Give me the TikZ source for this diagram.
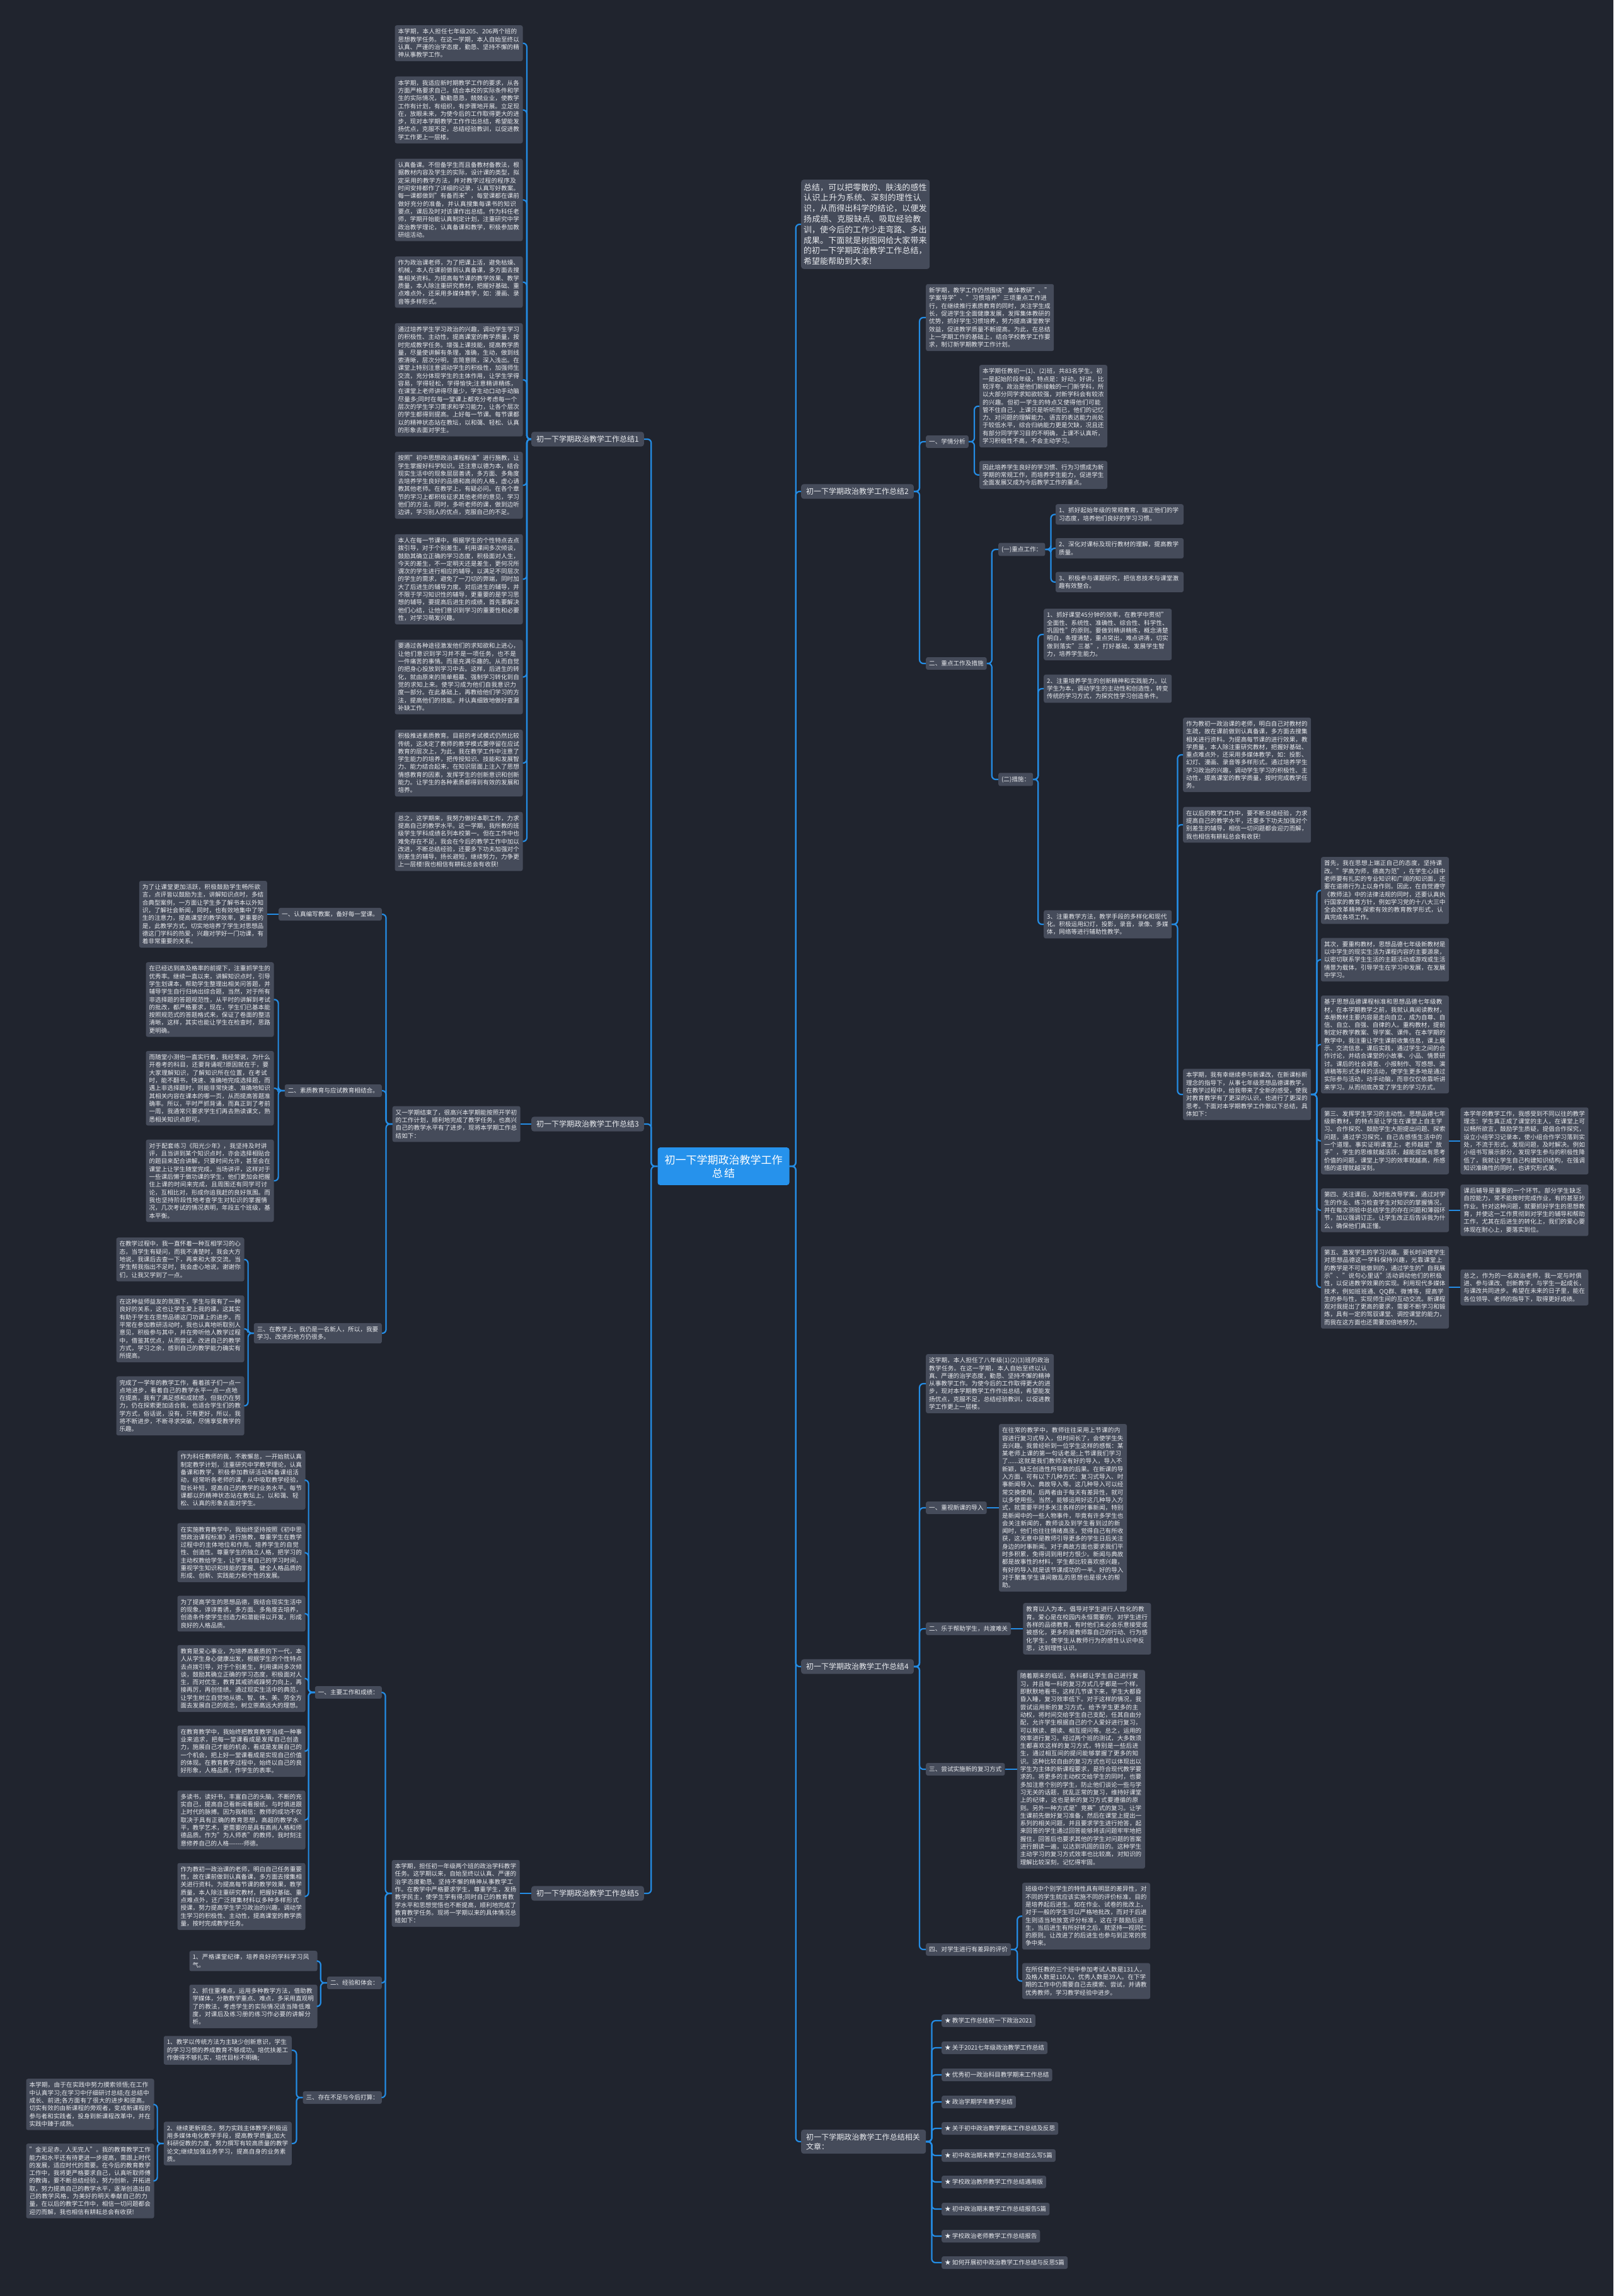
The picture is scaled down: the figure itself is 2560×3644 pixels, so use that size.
\documentclass[tikz,border=0pt]{standalone}
\usepackage{fontspec}
\setmainfont{Noto Sans CJK SC}
\usetikzlibrary{positioning}
\XeTeXlinebreaklocale "zh"
\XeTeXlinebreakskip=0pt plus 1pt
\definecolor{MapBg}{RGB}{32,36,46}
\definecolor{BoxGray}{RGB}{69,75,90}
\definecolor{LinkBlue}{RGB}{36,140,228}
\definecolor{RootBlue}{RGB}{38,146,236}
\definecolor{InkGray}{RGB}{232,234,238}
\tikzset{
  root/.style={fill=RootBlue,text=white,rounded corners=4pt,inner xsep=11pt,inner ysep=11.5pt,
    text width=187pt,align=center,font=\fontsize{17}{21}\selectfont},
  head/.style={fill=BoxGray,text=InkGray,rounded corners=4pt,inner xsep=8pt,inner ysep=6pt,
    font=\fontsize{12}{15}\selectfont},
  intro/.style={fill=BoxGray,text=InkGray,rounded corners=4pt,inner xsep=4pt,inner ysep=6pt,
    text width=196pt,align=left,font=\fontsize{13}{16.8}\selectfont},
  sub/.style={fill=BoxGray,text=InkGray,rounded corners=3pt,inner xsep=5pt,inner ysep=5.5pt,
    font=\fontsize{9.6}{12.3}\selectfont},
  leaf/.style={sub,text width=193pt,align=left},
  link/.style={draw=LinkBlue,line width=2.2pt,rounded corners=6pt},
}

\begin{document}
\begin{tikzpicture}[x=1pt,y=-1pt]
\fill[MapBg] (0,0) rectangle (2560,3644);
\useasboundingbox (0,0) rectangle (2560,3644);
\node[root] (root) at (1148,1851) {初一下学期政治教学工作\\总结};
\node[head,anchor=east] (t1) at (1022,697) {初一下学期政治教学工作总结1};
\node[head,anchor=east] (t3) at (1022,1784) {初一下学期政治教学工作总结3};
\node[head,anchor=east] (t5) at (1022,3005) {初一下学期政治教学工作总结5};
\node[intro,anchor=west] (t0) at (1271,356) {总结，可以把零散的、肤浅的感性认识上升为系统、深刻的理性认识，从而得出科学的结论，以便发扬成绩、克服缺点、吸取经验教训，使今后的工作少走弯路、多出成果。下面就是树图网给大家带来的初一下学期政治教学工作总结，希望能帮助到大家!};
\node[head,anchor=west] (t2) at (1271,780) {初一下学期政治教学工作总结2};
\node[head,anchor=west] (t4) at (1271,2645) {初一下学期政治教学工作总结4};
\node[head,anchor=west,text width=182pt,align=left] (t6) at (1271,3399) {初一下学期政治教学工作总结相关文章：};

\node[leaf,anchor=north] (a1) at (728,40) {本学期，本人担任七年级205、206两个班的思想教学任务。在这一学期，本人自始至终以认真、严谨的治学态度，勤恳、坚持不懈的精神从事教学工作。};
\node[leaf,below=24pt of a1] (a2) {本学期，我适应新时期教学工作的要求，从各方面严格要求自己，结合本校的实际条件和学生的实际情况，勤勤恳恳，兢兢业业，使教学工作有计划，有组织，有步骤地开展。立足现在，放眼未来，为使今后的工作取得更大的进步，现对本学期教学工作作出总结，希望能发扬优点，克服不足，总结经验教训，以促进教学工作更上一层楼。};
\node[leaf,below=24pt of a2] (a3) {认真备课。不但备学生而且备教材备教法，根据教材内容及学生的实际，设计课的类型，拟定采用的教学方法，并对教学过程的程序及时间安排都作了详细的记录，认真写好教案。每一课都做到"有备而来"，每堂课都在课前做好充分的准备，并认真搜集每课书的知识要点，课后及时对该课作出总结。作为科任老师，学期开始能认真制定计划，注重研究中学政治教学理论，认真备课和教学，积极参加教研组活动。};
\node[leaf,below=24pt of a3] (a4) {作为政治课老师，为了把课上活，避免枯燥、机械，本人在课前做到认真备课，多方面去搜集相关资料。为提高每节课的教学效果、教学质量，本人除注重研究教材，把握好基础、重点难点外，还采用多媒体教学，如：漫画、录音等多样形式。};
\node[leaf,below=24pt of a4] (a5) {通过培养学生学习政治的兴趣，调动学生学习的积极性、主动性，提高课堂的教学质量，按时完成教学任务。增强上课技能，提高教学质量，尽量使讲解有条理，准确，生动，做到线索清晰，层次分明，言简意赅，深入浅出。在课堂上特别注意调动学生的积极性，加强师生交流，充分体现学生的主体作用，让学生学得容易，学得轻松，学得愉快;注意精讲精练，在课堂上老师讲得尽量少，学生动口动手动脑尽量多;同时在每一堂课上都充分考虑每一个层次的学生学习需求和学习能力，让各个层次的学生都得到提高。上好每一节课。每节课都以的精神状态站在教坛，以和蔼、轻松、认真的形象去面对学生。};
\node[leaf,below=24pt of a5] (a6) {按照"初中思想政治课程标准"进行施教，让学生掌握好科学知识。还注意以德为本，结合现实生活中的现象层层善诱，多方面、多角度去培养学生良好的品德和高尚的人格，虚心请教其他老师。在教学上，有疑必问。在各个章节的学习上都积极征求其他老师的意见，学习他们的方法，同时，多听老师的课，做到边听边讲，学习别人的优点，克服自己的不足。};
\node[leaf,below=24pt of a6] (a7) {本人在每一节课中，根据学生的个性特点去点拨引导，对于个别差生，利用课间多次倾谈，鼓励其确立正确的学习态度，积极面对人生，今天的差生，不一定明天还是差生，更何况所谓次的学生进行相应的辅导，以满足不同层次的学生的需求，避免了一刀切的弊端，同时加大了后进生的辅导力度。对后进生的辅导，并不限于学习知识性的辅导，更重要的是学习思想的辅导，要提高后进生的成绩，首先要解决他们心结，让他们意识到学习的重要性和必要性，对学习萌发兴趣。};
\node[leaf,below=24pt of a7] (a8) {要通过各种途径激发他们的求知欲和上进心，让他们意识到学习并不是一项任务，也不是一件痛苦的事情。而是充满乐趣的。从而自觉的把身心投放到学习中去。这样，后进生的转化，就由原来的简单粗暴、强制学习转化到自觉的求知上来。使学习成为他们自我意识力度一部分。在此基础上，再教给他们学习的方法，提高他们的技能。并认真细致地做好查漏补缺工作。};
\node[leaf,below=24pt of a8] (a9) {积极推进素质教育。目前的考试模式仍然比较传统，这决定了教师的教学模式要停留在应试教育的层次上，为此，我在教学工作中注意了学生能力的培养，把传授知识、技能和发展智力、能力结合起来，在知识层面上注入了思想情感教育的因素，发挥学生的创新意识和创新能力。让学生的各种素质都得到有效的发展和培养。};
\node[leaf,below=24pt of a9] (a10) {总之，这学期来，我努力做好本职工作，力求提高自己的教学水平。这一学期，我所教的班级学生学科成绩名列本校第一。但在工作中也难免存在不足，我会在今后的教学工作中加以改进，不断总结经验，还要多下功夫加强对个别差生的辅导，扬长避短，继续努力，力争更上一层楼!我也相信有耕耘总会有收获!};

\node[leaf,left=17pt of t3] (c0) {又一学期结束了，很高兴本学期能按照开学初的工作计划，顺利地完成了教学任务，也高兴自己的教学水平有了进步，现将本学期工作总结如下：};
\node[sub,anchor=east] (c1) at (606,1451) {一、认真编写教案，备好每一堂课。};
\node[sub,anchor=east] (c2) at (606,1731) {二、素质教育与应试教育相结合。};
\node[sub,anchor=east,text width=193pt,align=left] (c3) at (606,2116) {三、在教学上，我仍是一名新人，所以，我要学习、改进的地方仍很多。};
\node[leaf,left=18pt of c1] (c1a) {为了让课堂更加活跃，积极鼓励学生畅所欲言，点评皆以鼓励为主，讲解知识点时，多结合典型案例，一方面让学生多了解书本以外知识，了解社会新闻，同时，也有效地集中了学生的注意力，提高课堂的教学效率，更重要的是，此教学方式，切实地培养了学生对思想品德这门学科的热爱，兴趣对学好一门功课，有着非常重要的关系。};
\node[leaf,anchor=north] (c2a) at (333,1527) {在已经达到高及格率的前提下，注重抓学生的优秀率。继续一直以来，讲解知识点时，引导学生划课本，帮助学生整理出相关问答题，并辅导学生自行归纳出综合题，当然，对于所有非选择题的答题规范性，从平时的讲解到考试的批改，都严格要求，现在，学生们已基本能按照规范式的答题格式来，保证了卷面的整洁清晰，这样，其实也能让学生在检查时，思路更明确。};
\node[leaf,below=22pt of c2a] (c2b) {而随堂小测也一直实行着，我经常说，为什么开卷考的科目，还要背诵呢?原因就在于，要大家理解知识，了解知识所在位置，在考试时，能不翻书，快速、准确地完成选择题，而遇上非选择题时，则能非常快速、准确地知识其相关内容在课本的哪一页，从而提高答题准确率。所以，平时严抓背诵，而真正到了考前一周，我通常只要求学生们再去熟读课文，熟悉相关知识点即可。};
\node[leaf,below=22pt of c2b] (c2c) {对于配套练习《阳光少年》，我坚持及时讲评，且当讲到某个知识点时，亦会选择相贴合的题目来配合讲解，只要时间允许，甚至会在课堂上让学生随堂完成，当场讲评，这样对于一些课后懒于做功课的学生，他们更加会把握住上课的时间来完成，且周围还有同学可讨论，互相比对，形成你追我赶的良好氛围。而我也坚持阶段性地考查学生对知识的掌握情况，几次考试的情况表明，年段五个班级，基本平衡。};
\node[leaf,anchor=north] (c3a) at (286,1964) {在教学过程中，我一直怀着一种互相学习的心态，当学生有疑问，而我不清楚时，我会大方地说，我课后去查一下，再来和大家交流。当学生帮我指出不足时，我会虚心地说，谢谢你们，让我又学到了一点。};
\node[leaf,below=22pt of c3a] (c3b) {在这种益师益友的氛围下，学生与我有了一种良好的关系，这也让学生爱上我的课，这其实有助于学生在思想品德这门功课上的进步。而平常在参加教研活动时，我也认真地听取别人意见，积极参与其中，并在旁听他人教学过程中，借鉴其优点，从而尝试、改进自己的教学方式，学习之余，感到自己的教学能力确实有所提高。};
\node[leaf,below=22pt of c3b] (c3c) {完成了一学年的教学工作，看着孩子们一点一点地进步，看着自己的教学水平一点一点地在提高，我有了满足感和成就感，但我仍在努力，仍在探索更加适合我，也适合学生们的教学方式，俗话说，没有，只有更好，所以，我将不断进步，不断寻求突破，尽情享受教学的乐趣。};

\node[leaf,left=18pt of t5] (e0) {本学期，担任初一年级两个班的政治学科教学任务。这学期以来，自始至终以认真、严谨的治学态度勤恳、坚持不懈的精神从事教学工作。在教学中严格要求学生，尊重学生，发扬教学民主，使学生学有得;同时自己的教育教学水平和思想觉悟也不断提高，顺利地完成了教育教学任务。现将一学期以来的具体情况总结如下：};
\node[sub,anchor=east] (e1) at (606,2686) {一、主要工作和成绩：};
\node[sub,anchor=east] (e2) at (606,3147) {二、经验和体会：};
\node[sub,anchor=east] (e3) at (606,3329) {三、存在不足与今后打算：};
\node[leaf,anchor=north] (e1a) at (383,2302) {作为科任教师的我，不敢懈怠，一开始就认真制定教学计划，注重研究中学教学理论，认真备课和教学，积极参加教研活动和备课组活动，经常听各老师的课，从中吸取教学经验，取长补短，提高自己的教学的业务水平。每节课都以的精神状态站在教坛上，以和蔼、轻松、认真的形象去面对学生。};
\node[leaf,below=21pt of e1a] (e1b) {在实施教育教学中，我始终坚持按照《初中思想政治课程标准》进行施教，尊重学生在教学过程中的主体地位和作用。培养学生的自觉性、创造性。尊重学生的独立人格，把学习的主动权教给学生，让学生有自己的学习时间，重视学生知识和技能的掌握、健全人格品质的形成、创新、实践能力和个性的发展。};
\node[leaf,below=21pt of e1b] (e1c) {为了提高学生的思想品德，我结合现实生活中的现象，谆谆善诱，多方面、多角度去培养，创造条件使学生创造力和潜能得以开发，形成良好的人格品质。};
\node[leaf,below=21pt of e1c] (e1d) {教育是爱心事业，为培养高素质的下一代，本人从学生身心健康出发，根据学生的个性特点去点拨引导，对于个别差生，利用课间多次倾谈，鼓励其确立正确的学习态度，积极面对人生，而对优生，教育其戒骄戒躁努力向上，再接再厉，再创佳绩。通过现实生活中的典范，让学生树立自觉地从德、智、体、美、劳全方面去发展自己的观念，树立崇高远大的理想。};
\node[leaf,below=21pt of e1d] (e1e) {在教育教学中，我始终把教育教学当成一种事业来追求，把每一堂课看成是发挥自己创造力，施展自己才能的机会，看成是发展自己的一个机会，把上好一堂课看成是实现自己价值的体现。在教育教学过程中，始终以自己的良好形象，人格品质，作学生的表率。};
\node[leaf,below=21pt of e1e] (e1f) {多读书，读好书，丰富自己的头脑，不断的充实自己，提高自己看新闻看报纸，与时俱进跟上时代的脉搏。因为我相信：教师的成功不仅取决于具有正确的教育思想，高超的教学水平，教学艺术，更需要的是具有高尚人格和师德品质。作为"为人师表"的教师，我时刻注意修养自己的人格-{}-{}-{}-{}-{}-{}-师德。};
\node[leaf,below=21pt of e1f] (e1g) {作为教初一政治课的老师，明白自己任务重要性，故在课前做到认真备课，多方面去搜集相关进行资料。为提高每节课的教学效果，教学质量，本人除注重研究教材，把握好基础、重点难点外，还广泛搜集材料以多种多样形式授课，努力提高学生学习政治的兴趣，调动学生学习的积极性、主动性，提高课堂的教学质量，按时完成教学任务。};
\node[leaf,anchor=north] (e2a) at (402,3096) {1、严格课堂纪律，培养良好的学科学习风气。};
\node[leaf,below=21pt of e2a] (e2b) {2、抓住重难点，运用多种教学方法，借助教学媒体，分散教学重点、难点，多采用直观明了的教法，考虑学生的实际情况适当降低难度，对课后及练习册的练习作必要的讲解分析。};
\node[leaf,anchor=east] (e3a) at (463,3254) {1、教学以传统方法为主缺少创新意识，学生的学习习惯的养成教育不够成功。培优扶差工作做得不够扎实，培优目标不明确;};
\node[leaf,anchor=east] (e3b) at (463,3402) {2、继续更新观念，努力实践主体教学;积极运用多媒体电化教学手段，提高教学质量;加大科研促教的力度，努力撰写有较高质量的教学论文;继续加强业务学习，提高自身的业务素质。};
\node[leaf,anchor=north] (e3ba) at (143,3299) {本学期，由于在实践中努力摸索领悟;在工作中认真学习;在学习中仔细研讨总结;在总结中成长、前进;各方面有了很大的进步和提高。切实有效的由新课程的旁观者，变成新课程的参与者和实践者，投身到新课程改革中，并在实践中臻于成熟。};
\node[leaf,below=21pt of e3ba] (e3bb) {"金无足赤，人无完人"。我的教育教学工作能力和水平还有待更进一步提高，需跟上时代的发展，适应时代的需要。在今后的教育教学工作中，我将更严格要求自己，认真听取师傅的教诲，要不断总结经验，努力创新，开拓进取，努力提高自己的教学水平，逐渐创造出自己的教学风格，为美好的明天奉献自己的力量，在以后的教学工作中，相信一切问题都会迎刃而解，我也相信有耕耘总会有收获!};

\node[leaf,anchor=west] (b1) at (1469,504) {新学期，教学工作仍然围绕"集体教研"、"学案导学"、"习惯培养"三项重点工作进行，在继续推行素质教育的同时，关注学生成长，促进学生全面健康发展，发挥集体教研的优势，抓好学生习惯培养，努力提高课堂教学效益，促进教学质量不断提高。为此，在总结上一学期工作的基础上，结合学校教学工作要求，制订新学期教学工作计划。};
\node[sub,anchor=west] (b2) at (1469,701) {一、学情分析};
\node[sub,anchor=west] (b3) at (1469,1053) {二、重点工作及措施};
\node[leaf,anchor=north] (b2a) at (1655.5,579) {本学期任教初一(1)、(2)班，共83名学生。初一是起始阶段年级，特点是：好动，好讲，比较浮夸。政治是他们新接触的一门新学科，所以大部分同学求知欲较强，对新学科会有较浓的兴趣。但初一学生的特点又使得他们可能管不住自己，上课只是听听而已，他们的记忆力、对问题的理解能力、语言的表达能力尚处于较低水平，综合归纳能力更是欠缺，况且还有部分同学学习目的不明确，上课不认真听，学习积极性不高，不会主动学习。};
\node[leaf,below=21pt of b2a] (b2b) {因此培养学生良好的学习惯、行为习惯成为新学期的常规工作，而培养学生能力，促进学生全面发展又成为今后教学工作的重点。};
\node[sub,anchor=west] (b31) at (1584,872) {(一)重点工作：};
\node[sub,anchor=west] (b32) at (1584,1237) {(二)措施：};
\node[leaf,anchor=north] (b31a) at (1776.5,800) {1、抓好起始年级的常规教育，端正他们的学习态度，培养他们良好的学习习惯。};
\node[leaf,below=21pt of b31a] (b31b) {2、深化对课标及现行教材的理解，提高教学质量。};
\node[leaf,below=21pt of b31b] (b31c) {3、积极参与课题研究，把信息技术与课堂激趣有效整合。};
\node[leaf,anchor=west] (b32a) at (1656,1007) {1、抓好课堂45分钟的效率，在教学中贯彻"全面性、系统性、准确性、综合性、科学性、巩固性"的原则。要做到精讲精练，概念清楚明白，条理清楚，重点突出，难点讲清，切实做到落实"三基"，打好基础，发展学生智力，培养学生能力。};
\node[leaf,anchor=west] (b32b) at (1656,1093) {2、注重培养学生的创新精神和实践能力。以学生为本，调动学生的主动性和创造性，转变传统的学习方式，为探究性学习创造条件。};
\node[leaf,anchor=west] (b32c) at (1656,1467) {3、注重教学方法，教学手段的多样化和现代化。积极运用幻灯，投影，录音，录像、多媒体，网络等进行辅助性教学。};
\node[leaf,anchor=west] (b32ca) at (1877,1198) {作为教初一政治课的老师，明白自己对教材的生疏，故在课前做到认真备课，多方面去搜集相关进行资料。为提高每节课的进行效果，教学质量，本人除注重研究教材，把握好基础、重点难点外，还采用多媒体教学，如：投影、幻灯、漫画、录音等多样形式。通过培养学生学习政治的兴趣，调动学生学习的积极性、主动性，提高课堂的教学质量，按时完成教学任务。};
\node[leaf,anchor=west] (b32cb) at (1877,1309) {在以后的教学工作中，要不断总结经验，力求提高自己的教学水平，还要多下功夫加强对个别差生的辅导，相信一切问题都会迎刃而解，我也相信有耕耘总会有收获!};
\node[leaf,anchor=west] (b32cc) at (1877,1737) {本学期，我有幸继续参与新课改，在新课标新理念的指导下，从事七年级思想品德课教学，在教学过程中，给我带来了全新的感受，使我对教育教学有了更深的认识，也进行了更深的思考。下面对本学期教学工作做以下总结，具体如下：};
\node[leaf,anchor=north] (f1) at (2197.5,1360) {首先，我在思想上端正自己的态度，坚持课改。"学高为师，德高为范"，在学生心目中老师要有扎实的专业知识和广阔的知识面，还要在道德行为上以身作则。因此，在自觉遵守《教师法》中的法律法规的同时，还要认真执行国家的教育方针，例如学习党的十八大三中全会改革精神;探索有效的教育教学形式，认真完成各项工作。};
\node[leaf,below=22pt of f1] (f2) {其次，要重构教材，思想品德七年级新教材是以中学生的现实生活为课程内容的主要源泉，以密切联系学生生活的主题活动或游戏或生活情景为载体，引导学生在学习中发展，在发展中学习。};
\node[leaf,below=22pt of f2] (f3) {基于思想品德课程标准和思想品德七年级教材，在本学期教学之前，我就认真阅读教材，本册教材主要内容是走向自立，成为自尊、自信、自立、自强、自律的人。重构教材，提前制定好教学教案、导学案、课件。在本学期的教学中，我注重让学生课前收集信息，课上展示、交流信息，课后实践，通过学生之间的合作讨论，并结合课堂的小故事、小品、情景研讨。课后的社会调查、小报制作、写感想、演讲稿等形式多样的活动，使学生更多地是通过实际参与活动，动手动脑，而非仅仅依靠听讲来学习。从而彻底改变了学生的学习方式。};
\node[leaf,below=22pt of f3] (f4) {第三、发挥学生学习的主动性。思想品德七年级新教材，的特点是让学生在课堂上自主学习、合作探究、鼓励学生大胆提出问题、探索问题，通过学习探究，自己去感悟生活中的一个道理。事实证明课堂上，老师越是"放手"，学生的思维就越活跃，越能提出有思考价值的问题，课堂上学习的效率就越高，所感悟的道理就越深刻。};
\node[leaf,below=22pt of f4] (f5) {第四、关注课后，及时批改导学案，通过对学生的作业、练习检查学生对知识的掌握情况，并在每次测验中总结学生的存在问题和薄弱环节，加以强调订正。让学生改正后告诉我为什么，确保他们真正懂。};
\node[leaf,below=22pt of f5] (f6) {第五、激发学生的学习兴趣。要长时间使学生对思想品德这一学科保持兴趣，光靠课堂上的教学是不可能做到的，通过学生的"自我展示"、"说句心里话"活动调动他们的积极性，以促进教学效果的实现。利用现代多媒体技术，例如班班通、QQ群、微博等，提高学生的参与性，实现师生间的互动交流。新课程观对我提出了更高的要求，需要不断学习和锻炼，具有一定的驾驭课堂、调控课堂的能力，而我在这方面也还需要加倍地努力。};
\node[leaf,right=18pt of f4] (g4) {本学年的教学工作，我感受到不同以往的教学理念：学生真正成了课堂的主人，在课堂上可以畅所欲言，鼓励学生质疑，提倡合作探究，设立小组学习记录本，使小组合作学习落到实处，不流于形式。发现问题，及时解决。例如小组书写展示部分，发现学生参与的积极性降低了，我就让学生自己构建知识结构，在强调知识准确性的同时，也讲究形式美。};
\node[leaf,right=18pt of f5] (g5) {课后辅导是重要的一个环节。部分学生缺乏自控能力，常不能按时完成作业，有的甚至抄作业。针对这种问题，就要抓好学生的思想教育，并使这一工作贯彻到对学生的辅导和帮助工作，尤其在后进生的转化上，我们的爱心要体现在耐心上，要落实到位。};
\node[leaf,right=18pt of f6] (g6) {总之，作为的一名政治老师，我一定与时俱进、参与课改、创新教学，与学生一起成长，与课改共同进步。希望在未来的日子里，能在各位领导、老师的指导下，取得更好成绩。};

\node[leaf,anchor=west] (d1) at (1469,2196) {这学期，本人担任了八年级(1)(2)(3)班的政治教学任务。在这一学期，本人自始至终以认真、严谨的治学态度，勤恳、坚持不懈的精神从事教学工作。为使今后的工作取得更大的进步，现对本学期教学工作作出总结，希望能发扬优点，克服不足，总结经验教训，以促进教学工作更上一层楼。};
\node[sub,anchor=west] (d2) at (1469,2393) {一、重视新课的导入};
\node[sub,anchor=west] (d3) at (1469,2585) {二、乐于帮助学生，共渡难关};
\node[sub,anchor=west] (d4) at (1469,2808) {三、尝试实施新的复习方式};
\node[sub,anchor=west] (d5) at (1469,3094) {四、对学生进行有差异的评价};
\node[leaf,right=19pt of d2] (d2a) {在往常的教学中，教师往往采用上节课的内容进行复习式导入，但时间长了，会使学生失去兴趣。我曾经听到一位学生这样的感慨：某某老师上课的第一句话老是;上节课我们学习了......这就是我们教师没有好的导入，导入不新颖，缺乏创造性所导致的后果。在新课的导入方面，可有以下几种方式：复习式导入、时事新闻导入、典故导入等。这几种导入可以经常交换使用，后两者由于每天有差异性，就可以多使用些。当然，能够运用好这几种导入方式，就需要平时多关注各样的时事新闻，特别是新闻中的一些人物事件，毕竟有许多学生也会关注新闻的，教师谈及到学生看到过的新闻时，他们也往往情绪高涨，觉得自己有所收获，这无意中是教师引导更多的学生日后关注身边的时事新闻。对于典故方面也要求我们平时多积累，免得词到用时方恨少。新闻与典故都是故事性的材料，学生都比较喜欢感兴趣，有好的导入就是该节课成功的一半。好的导入对于聚集学生课间散乱的思想也是很大的帮助。};
\node[leaf,right=19pt of d3] (d3a) {教育以人为本，倡导对学生进行人性化的教育。爱心是在校园内永恒需要的。对学生进行各样的品德教育，有时他们未必会乐意接受或被感化，更多的是教师靠自己的行动、行为感化学生，使学生从教师行为的感性认识中反思，达到理性认识。};
\node[leaf,right=19pt of d4] (d4a) {随着期末的临近，各科都让学生自己进行复习，并且每一科的复习方式几乎都是一个样，即默默地看书，这样几节课下来，学生大都昏昏入睡，复习效率低下。对于这样的情况，我尝试运用新的复习方式，给予学生更多的主动权，将时间交给学生自己支配，任其自由分配，允许学生根据自己的个人爱好进行复习，可以默读、朗读、相互提问等。总之，运用的效率进行复习。经过两个班的测试，大多数须生都喜欢这样的复习方式，特别是一些后进生，通过相互间的提问能够掌握了更多的知识。这种比较自由的复习方式也可以体现出以学生为主体的新课程要求，是符合现代教学要求的。将更多的主动权交给学生的同时，也要多加注意个别的学生，防止他们谈论一些与学习无关的话题，扰乱正常的复习，维持好课堂上的纪律，这也是新的复习方式要遵循的原则。另外一种方式是"竞赛"式的复习。让学生课前先做好复习准备，然后在课堂上提出一系列的相关问题，并且要求学生进行抢答，起来回答的学生通过回答能够将该问题牢牢地把握住，回答后也要求其他的学生对问题的答案进行朗读一遍，以达到巩固的目的。这种学生主动学习的复习方式效率也比较高，对知识的理解比较深刻，记忆得牢固。};
\node[leaf,anchor=north] (d5a) at (1723.5,2988) {班级中个别学生的特性具有明显的差异性，对不同的学生就应该实施不同的评价标准，目的是培养起后进生。如在作业、试卷的批改上，对于一般的学生可以严格地批改，而对于后进生则适当地放宽评分标准，这在于鼓励后进生，当后进生有所好转之后，就坚持一视同仁的原则。让改进了的后进生也参与到正常的竞争中来。};
\node[leaf,below=21pt of d5a] (d5b) {在所任教的三个班中参加考试人数是131人，及格人数是110人，优秀人数是39人。在下学期的工作中仍需要自己去摸索、尝试，并请教优秀教师，学习教学经验中进步。};

\node[sub,anchor=west] (r1) at (1494,3207) {★ 教学工作总结初一下政治2021};
\node[sub,anchor=west] (r2) at (1494,3250) {★ 关于2021七年级政治教学工作总结};
\node[sub,anchor=west] (r3) at (1494,3293) {★ 优秀初一政治科目教学期末工作总结};
\node[sub,anchor=west] (r4) at (1494,3336) {★ 政治学期学年教学总结};
\node[sub,anchor=west] (r5) at (1494,3378) {★ 关于初中政治教学期末工作总结及反思};
\node[sub,anchor=west] (r6) at (1494,3421) {★ 初中政治期末教学工作总结怎么写5篇};
\node[sub,anchor=west] (r7) at (1494,3463) {★ 学校政治教师教学工作总结通用版};
\node[sub,anchor=west] (r8) at (1494,3506) {★ 初中政治期末教学工作总结报告5篇};
\node[sub,anchor=west] (r9) at (1494,3549) {★ 学校政治老师教学工作总结报告};
\node[sub,anchor=west] (r10) at (1494,3591) {★ 如何开展初中政治教学工作总结与反思5篇};

\draw[link] (root.west) -- ++(-10,0) |- (t1.east);
\draw[link] (root.west) -- ++(-10,0) |- (t3.east);
\draw[link] (root.west) -- ++(-10,0) |- (t5.east);
\draw[link] (root.east) -- ++(10,0) |- (t0.west);
\draw[link] (root.east) -- ++(10,0) |- (t2.west);
\draw[link] (root.east) -- ++(10,0) |- (t4.west);
\draw[link] (root.east) -- ++(10,0) |- (t6.west);
\draw[link] (t1.west) -- ++(-7,0) |- (a1.east);
\draw[link] (t1.west) -- ++(-7,0) |- (a2.east);
\draw[link] (t1.west) -- ++(-7,0) |- (a3.east);
\draw[link] (t1.west) -- ++(-7,0) |- (a4.east);
\draw[link] (t1.west) -- ++(-7,0) |- (a5.east);
\draw[link] (t1.west) -- ++(-7,0) |- (a6.east);
\draw[link] (t1.west) -- ++(-7,0) |- (a7.east);
\draw[link] (t1.west) -- ++(-7,0) |- (a8.east);
\draw[link] (t1.west) -- ++(-7,0) |- (a9.east);
\draw[link] (t1.west) -- ++(-7,0) |- (a10.east);
\draw[link] (t3.west) -- (c0.east);
\draw[link] (c0.west) -- ++(-10,0) |- (c1.east);
\draw[link] (c0.west) -- ++(-10,0) |- (c2.east);
\draw[link] (c0.west) -- ++(-10,0) |- (c3.east);
\draw[link] (c1.west) -- (c1a.east);
\draw[link] (c2.west) -- ++(-10,0) |- (c2a.east);
\draw[link] (c2.west) -- ++(-10,0) |- (c2b.east);
\draw[link] (c2.west) -- ++(-10,0) |- (c2c.east);
\draw[link] (c3.west) -- ++(-9,0) |- (c3a.east);
\draw[link] (c3.west) -- ++(-9,0) |- (c3b.east);
\draw[link] (c3.west) -- ++(-9,0) |- (c3c.east);
\draw[link] (t5.west) -- (e0.east);
\draw[link] (e0.west) -- ++(-10,0) |- (e1.east);
\draw[link] (e0.west) -- ++(-10,0) |- (e2.east);
\draw[link] (e0.west) -- ++(-10,0) |- (e3.east);
\draw[link] (e1.west) -- ++(-10,0) |- (e1a.east);
\draw[link] (e1.west) -- ++(-10,0) |- (e1b.east);
\draw[link] (e1.west) -- ++(-10,0) |- (e1c.east);
\draw[link] (e1.west) -- ++(-10,0) |- (e1d.east);
\draw[link] (e1.west) -- ++(-10,0) |- (e1e.east);
\draw[link] (e1.west) -- ++(-10,0) |- (e1f.east);
\draw[link] (e1.west) -- ++(-10,0) |- (e1g.east);
\draw[link] (e2.west) -- ++(-10,0) |- (e2a.east);
\draw[link] (e2.west) -- ++(-10,0) |- (e2b.east);
\draw[link] (e3.west) -- ++(-10,0) |- (e3a.east);
\draw[link] (e3.west) -- ++(-10,0) |- (e3b.east);
\draw[link] (e3b.west) -- ++(-10,0) |- (e3ba.east);
\draw[link] (e3b.west) -- ++(-10,0) |- (e3bb.east);
\draw[link] (t2.east) -- ++(9,0) |- (b1.west);
\draw[link] (t2.east) -- ++(9,0) |- (b2.west);
\draw[link] (t2.east) -- ++(9,0) |- (b3.west);
\draw[link] (b2.east) -- ++(9,0) |- (b2a.west);
\draw[link] (b2.east) -- ++(9,0) |- (b2b.west);
\draw[link] (b3.east) -- ++(8,0) |- (b31.west);
\draw[link] (b3.east) -- ++(8,0) |- (b32.west);
\draw[link] (b31.east) -- ++(9,0) |- (b31a.west);
\draw[link] (b31.east) -- ++(9,0) |- (b31b.west);
\draw[link] (b31.east) -- ++(9,0) |- (b31c.west);
\draw[link] (b32.east) -- ++(8,0) |- (b32a.west);
\draw[link] (b32.east) -- ++(8,0) |- (b32b.west);
\draw[link] (b32.east) -- ++(8,0) |- (b32c.west);
\draw[link] (b32c.east) -- ++(9,0) |- (b32ca.west);
\draw[link] (b32c.east) -- ++(9,0) |- (b32cb.west);
\draw[link] (b32c.east) -- ++(9,0) |- (b32cc.west);
\draw[link] (b32cc.east) -- ++(9,0) |- (f1.west);
\draw[link] (b32cc.east) -- ++(9,0) |- (f2.west);
\draw[link] (b32cc.east) -- ++(9,0) |- (f3.west);
\draw[link] (b32cc.east) -- ++(9,0) |- (f4.west);
\draw[link] (b32cc.east) -- ++(9,0) |- (f5.west);
\draw[link] (b32cc.east) -- ++(9,0) |- (f6.west);
\draw[link] (f4.east) -- (g4.west);
\draw[link] (f5.east) -- (g5.west);
\draw[link] (f6.east) -- (g6.west);
\draw[link] (t4.east) -- ++(9,0) |- (d1.west);
\draw[link] (t4.east) -- ++(9,0) |- (d2.west);
\draw[link] (t4.east) -- ++(9,0) |- (d3.west);
\draw[link] (t4.east) -- ++(9,0) |- (d4.west);
\draw[link] (t4.east) -- ++(9,0) |- (d5.west);
\draw[link] (d2.east) -- (d2a.west);
\draw[link] (d3.east) -- (d3a.west);
\draw[link] (d4.east) -- (d4a.west);
\draw[link] (d5.east) -- ++(10,0) |- (d5a.west);
\draw[link] (d5.east) -- ++(10,0) |- (d5b.west);
\draw[link] (t6.east) -- ++(9,0) |- (r1.west);
\draw[link] (t6.east) -- ++(9,0) |- (r2.west);
\draw[link] (t6.east) -- ++(9,0) |- (r3.west);
\draw[link] (t6.east) -- ++(9,0) |- (r4.west);
\draw[link] (t6.east) -- ++(9,0) |- (r5.west);
\draw[link] (t6.east) -- ++(9,0) |- (r6.west);
\draw[link] (t6.east) -- ++(9,0) |- (r7.west);
\draw[link] (t6.east) -- ++(9,0) |- (r8.west);
\draw[link] (t6.east) -- ++(9,0) |- (r9.west);
\draw[link] (t6.east) -- ++(9,0) |- (r10.west);
\end{tikzpicture}
\end{document}
